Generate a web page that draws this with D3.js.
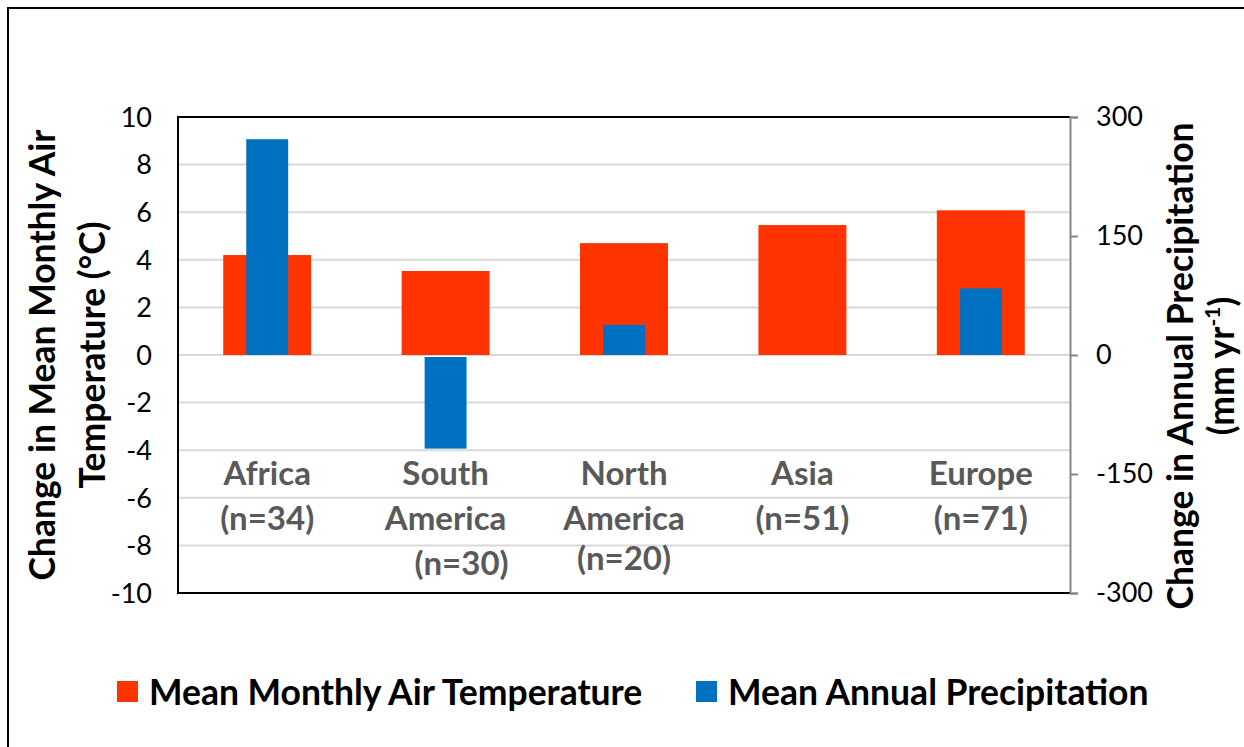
<!DOCTYPE html>
<html>
<head>
<meta charset="utf-8">
<script src="https://cdn.jsdelivr.net/npm/d3@7"></script>
<style>
  body { margin: 0; background: #fff; }
  svg { display: block; font-family: Lato, "Noto Sans", sans-serif; }
</style>
</head>
<body>
<div id="chart"></div>
<script>
const categories = ["Africa", "South America", "North America", "Asia", "Europe"];
const categoryLines = [
  ["Africa", "(n=34)"],
  ["South", "America", "(n=30)"],
  ["North", "America", "(n=20)"],
  ["Asia", "(n=51)"],
  ["Europe", "(n=71)"]
];
const tempChange = [4.2, 3.53, 4.7, 5.46, 6.08];      // °C, left axis
const precipChange = [272, -118, 38, 0, 84];          // mm/yr, right axis
const tempTicks = [-10, -8, -6, -4, -2, 0, 2, 4, 6, 8, 10];
const precipTicks = [-300, -150, 0, 150, 300];
const seriesNames = ["Mean Monthly Air Temperature", "Mean Annual Precipitation"];

const width = 1244, height = 747;
const margin = ({top: 117, right: 174, bottom: 154, left: 178});
const red = "#FF3300", blue = "#0070C0";

const x = d3.scaleBand()
    .domain(categories)
    .range([margin.left, width - margin.right])
    .paddingInner(0.507)
    .paddingOuter(0.2535);

const yT = d3.scaleLinear()
    .domain([-10, 10])
    .range([height - margin.bottom, margin.top]);

const yP = d3.scaleLinear()
    .domain([-300, 300])
    .range([height - margin.bottom, margin.top]);

const svg = d3.select("#chart").append("svg").attr("width", width).attr("height", height);

// outer frame (left + top edges visible)
svg.append("path")
  .attr("d", `M8,${height} V8 H${width}`)
  .attr("fill", "none").attr("stroke", "#000").attr("stroke-width", 2);

// gridlines
svg.append("g").selectAll("line")
  .data(tempTicks)
  .join("line")
    .attr("x1", margin.left).attr("x2", width - margin.right)
    .attr("y1", d => yT(d)).attr("y2", d => yT(d))
    .attr("stroke", "#d9d9d9").attr("stroke-width", 2);

// bars - temperature (wide, red)
svg.append("g").selectAll("rect")
  .data(tempChange)
  .join("rect")
    .attr("x", (d, i) => x(categories[i]))
    .attr("width", x.bandwidth())
    .attr("y", d => yT(Math.max(0, d)))
    .attr("height", d => Math.abs(yT(d) - yT(0)))
    .attr("fill", red);

// bars - precipitation (narrow, blue)
const bw = x.step() * 0.235;
svg.append("g").selectAll("rect")
  .data(precipChange)
  .join("rect")
    .attr("x", (d, i) => x(categories[i]) + x.bandwidth() / 2 - bw / 2)
    .attr("width", bw)
    .attr("y", d => d >= 0 ? yP(d) : yP(0) + 2)
    .attr("height", d => Math.max(0, Math.abs(yP(d) - yP(0)) - (d < 0 ? 2 : 0)))
    .attr("fill", blue);

// plot border
svg.append("path")
  .attr("d", `M${width - margin.right},${margin.top} H${margin.left} V${height - margin.bottom} H${width - margin.right}`)
  .attr("fill", "none").attr("stroke", "#000").attr("stroke-width", 2);

// left axis labels
svg.append("g").selectAll("text")
  .data(tempTicks)
  .join("text")
    .attr("x", 152).attr("y", d => yT(d)).attr("dy", "0.36em")
    .attr("text-anchor", "end")
    .attr("font-size", 27)
    .attr("fill", "#000")
    .text(d => d);

// right axis
const yAxisR = d3.axisRight(yP).tickValues(precipTicks).tickFormat(d => d)
    .tickSize(8).tickPadding(18);
const gR = svg.append("g")
  .attr("transform", `translate(${width - margin.right},0)`)
  .call(yAxisR);
gR.select(".domain").attr("stroke", "#868686").attr("stroke-width", 2);
gR.selectAll(".tick line").attr("stroke", "#868686").attr("stroke-width", 2);
gR.selectAll(".tick text")
  .attr("font-family", "Lato, 'Noto Sans', sans-serif")
  .attr("font-size", 27).attr("fill", "#000");

// category labels
const cat = svg.append("g").selectAll("g")
  .data(categoryLines)
  .join("g")
    .attr("transform", (d, i) => `translate(${x(categories[i]) + x.bandwidth() / 2},0)`);
cat.selectAll("text")
  .data((d, i) => d.map((t, j) => ({t, j, i})))
  .join("text")
    .attr("x", d => (d.i === 1 && d.j === 2) ? 16 : 0)
    .attr("y", d => 485 + d.j * 45 - ((d.i === 2 && d.j === 2) ? 5 : 0))
    .attr("text-anchor", "middle")
    .attr("font-size", 33).attr("font-weight", "bold")
    .attr("fill", "#595959")
    .text(d => d.t);

// left axis title
const lt = svg.append("text")
  .attr("transform", "translate(0,355) rotate(-90)")
  .attr("text-anchor", "middle")
  .attr("font-size", 35.5).attr("font-weight", "bold").attr("fill", "#000");
lt.append("tspan").attr("x", 0).attr("y", 43).attr("dy", "0.35em").text("Change in Mean Monthly Air");
lt.append("tspan").attr("x", 0).attr("y", 93).attr("dy", "0.35em").text("Temperature (°C)");

// right axis title
const rt = svg.append("text")
  .attr("transform", "translate(0,366) rotate(-90)")
  .attr("text-anchor", "middle")
  .attr("font-size", 35.5).attr("font-weight", "bold").attr("fill", "#000");
rt.append("tspan").attr("x", 0).attr("y", 1181).attr("dy", "0.35em").text("Change in Annual Precipitation");
const rt2 = rt.append("tspan").attr("x", 0).attr("y", 1222).attr("dy", "0.35em");
rt2.append("tspan").text("(mm  yr");
rt2.append("tspan").attr("font-size", 21).attr("dy", "-0.7em").text("-1");
rt2.append("tspan").attr("dy", "0.42em").text(")");

// legend
const legX = [117, 696];
const leg = svg.append("g").selectAll("g")
  .data(seriesNames)
  .join("g")
    .attr("transform", (d, i) => `translate(${legX[i]},681)`);
leg.append("rect")
  .attr("width", 21).attr("height", 21)
  .attr("fill", (d, i) => i === 0 ? red : blue);
leg.append("text")
  .attr("x", 32).attr("y", 11).attr("dy", "0.36em")
  .attr("font-size", 35.5).attr("font-weight", "bold").attr("fill", "#000")
  .text(d => d);
</script>
</body>
</html>
